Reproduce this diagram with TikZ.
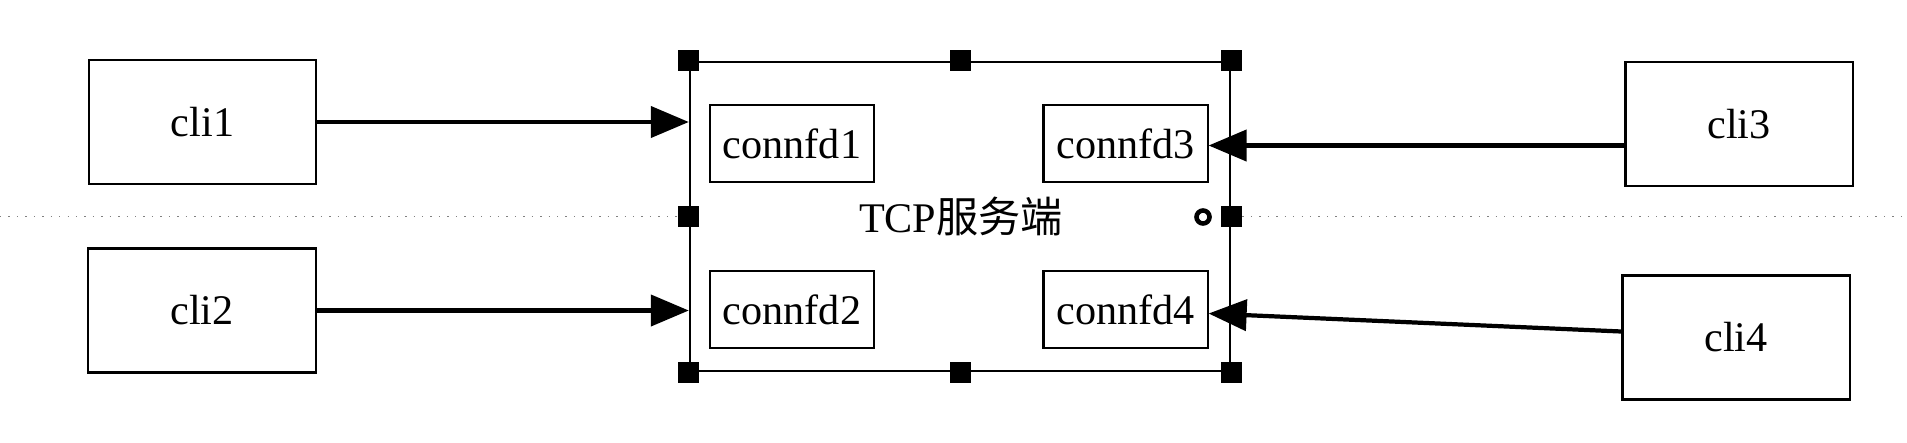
\documentclass[tikz,border=0pt]{standalone}
\usepackage{fontspec}
\setmainfont{Liberation Serif}
\newfontfamily\cjk{Noto Sans CJK SC}
\usetikzlibrary{arrows.meta,calc}
\begin{document}
\begin{tikzpicture}[x=0.01cm,y=-0.01cm,
 txt/.style={font=\fontsize{12}{14}\selectfont},
 clibox/.style={draw,line width=0.6pt,minimum width=2.27cm,minimum height=1.24cm,inner sep=0pt,txt},
 fdbox/.style={draw,line width=0.6pt,minimum width=1.64cm,minimum height=0.77cm,inner sep=0pt,txt},
 srvbox/.style={draw,line width=0.6pt,minimum width=5.4cm,minimum height=3.09cm,inner sep=0pt},
 arr/.style={line width=1.2pt,-{Triangle[length=3.8mm,width=3.1mm]}},
 handle/.style={fill=black,minimum size=0.21cm,inner sep=0pt},
 guide/.style={gray,dotted,line width=0.4pt}]
\useasboundingbox (0,0) rectangle (1907,442);
% guide points
\coordinate (gl) at (0,216.5);
\coordinate (gr) at (1907,216.5);
% server
\node[srvbox] (srv) at (960,216.5) {};
\node[txt] (lbl) at (961,216) {TCP{\cjk 服务端}};
% selection handles
\node[handle] (hnw) at (srv.north west) {};
\node[handle] (hn) at (srv.north) {};
\node[handle] (hne) at (srv.north east) {};
\node[handle] (hw) at (srv.west) {};
\node[handle] (he) at (srv.east) {};
\node[handle] (hsw) at (srv.south west) {};
\node[handle] (hs) at (srv.south) {};
\node[handle] (hse) at (srv.south east) {};
\node[draw,circle,line width=1.3pt,minimum size=0.13cm,inner sep=0pt] (knob) at (1203,217) {};
\draw[guide] (gl) -- (hw.west);
\draw[guide] (he.east) -- (gr);
% inner boxes
\node[fdbox] (fd1) at (792,143.5) {connfd1};
\node[fdbox] (fd2) at (792,309.5) {connfd2};
\node[fdbox] (fd3) at (1125.5,143.5) {connfd3};
\node[fdbox] (fd4) at (1125.5,309.5) {connfd4};
% clients
\node[clibox] (c1) at (202.5,122) {cli1};
\node[clibox] (c2) at (202,310.5) {cli2};
\node[clibox] (c3) at (1739,124) {cli3};
\node[clibox] (c4) at (1736,337.5) {cli4};
% arrows
\draw[arr] (c1.east) -- (c1.east -| srv.west);
\draw[arr] (c2.east) -- (c2.east -| srv.west);
\draw[arr] ($(c3.west |- fd3.east)+(0,2)$) -- ($(fd3.east)+(0,2)$);
\draw[arr] ($(c4.west)+(0,-6)$) -- ($(fd4.east)+(0,4)$);
\end{tikzpicture}
\end{document}
